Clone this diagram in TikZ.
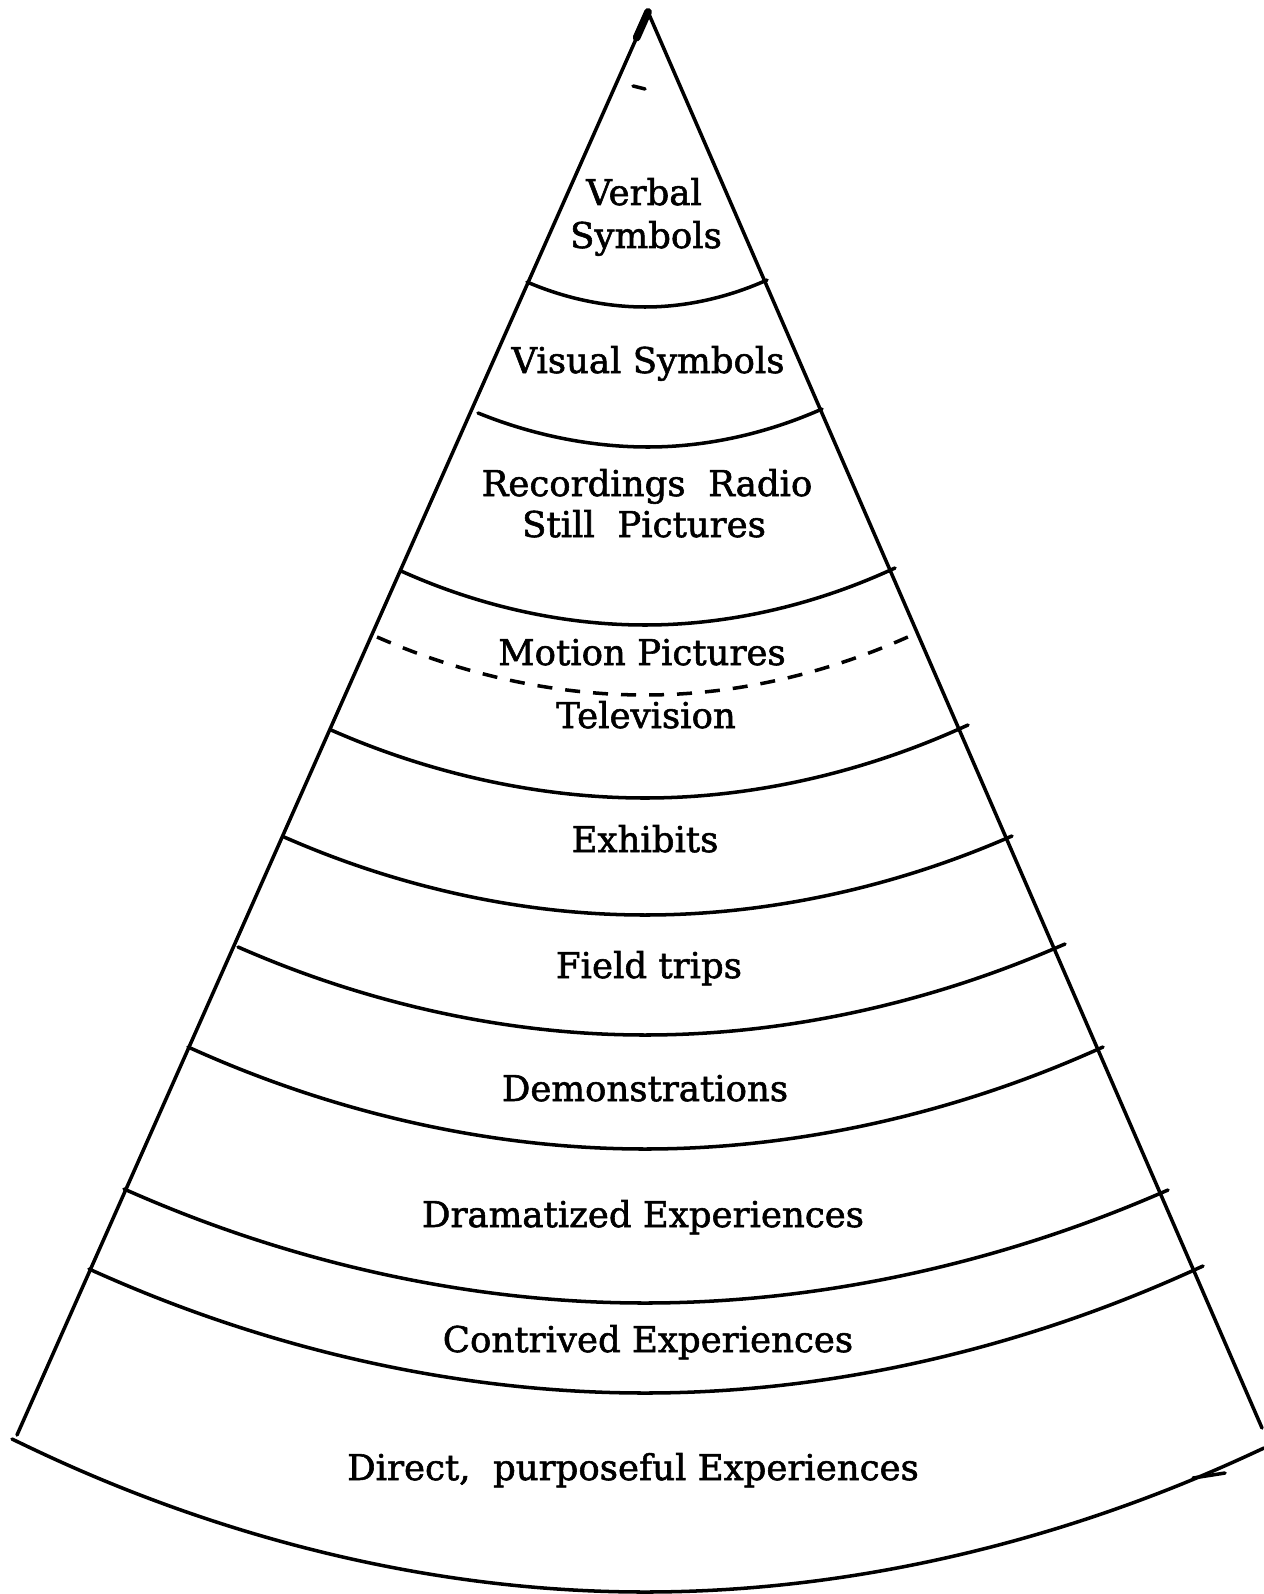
\documentclass[tikz,border=0pt]{standalone}
\usepackage{fontspec}
\setmainfont{DejaVu Serif}
\newfontfamily\lblfont{DejaVu Serif}[FakeBold=1.6]
\usetikzlibrary{calc}
\begin{document}
\begin{tikzpicture}[x=0.01cm,y=-0.01cm,
  edge/.style={line width=1pt, line cap=round, line join=round},
  dashedge/.style={line width=1pt, dash pattern=on 0.15cm off 0.13cm},
  lbl/.style={font=\lblfont\fontsize{10.1}{12}\selectfont, inner sep=0pt, anchor=base}]
\fill[white] (0,0) rectangle (1264,1594);
\useasboundingbox (0,0) rectangle (1264,1594);

% cone sides
\coordinate (apex) at (648,12);
\coordinate (bl) at (17,1435);
\coordinate (br) at (1262,1428);
\draw[edge] (bl) -- (apex) -- (br);
\draw[line width=2.2pt, line cap=round] (apex) -- ($(apex)!0.018!(bl)$);

% solid band arcs: name / left x,y / bend x,y / right x,y
\foreach \n/\lx/\ly/\bx/\by/\rx/\ry in {
  a1/527/282/645/307/767/280,
  a2/478/413/648/447/822/409,
  a3/401/571/645/625/895/568,
  a5/331/730/645/798/968/725,
  a6/284/837/645/915/1012/836,
  a7/238/947/645/1035/1065/944,
  a8/188/1047/645/1149/1103/1047,
  a9/124/1189/645/1303/1168/1190,
  a10/89/1269/645/1393/1203/1266,
  a11/12/1439/645/1592/1264/1448}{
  \coordinate (\n l) at (\lx,\ly);
  \coordinate (\n b) at (\bx,\by);
  \coordinate (\n r) at (\rx,\ry);
  \draw[edge] (\n l) parabola bend (\n b) (\n r);
}

% dashed arc between Motion Pictures and Television
\coordinate (a4l) at (377,637);
\coordinate (a4b) at (645,695);
\coordinate (a4r) at (910,636);
\draw[dashedge] (a4l) parabola bend (a4b) (a4r);

% small marks
\coordinate (m1a) at (633,86);
\coordinate (m1b) at (645,89);
\draw[edge] (m1a) -- (m1b);
\coordinate (m2a) at (1193,1478);
\coordinate (m2b) at (1225,1473);
\draw[edge] (m2a) -- (m2b);

% labels
\node[lbl] (verbal) at (644,205) {Verbal};
\node[lbl] (verbal2) at (646,248) {Symbols};
\node[lbl] (visual) at (648,373) {Visual Symbols};
\node[lbl] (rec) at (647,496) {Recordings\ \ Radio};
\node[lbl] (still) at (644,537) {Still\ \ Pictures};
\node[lbl] (motion) at (642,665) {Motion Pictures};
\node[lbl] (tv) at (646,728) {Television};
\node[lbl] (exh) at (645,852) {Exhibits};
\node[lbl] (field) at (649,978) {Field trips};
\node[lbl] (demo) at (645,1101) {Demonstrations};
\node[lbl] (dram) at (643,1227) {Dramatized Experiences};
\node[lbl] (contr) at (648,1352) {Contrived Experiences};
\node[lbl] (direct) at (633,1480) {Direct,\ \ purposeful Experiences};
\end{tikzpicture}
\end{document}
